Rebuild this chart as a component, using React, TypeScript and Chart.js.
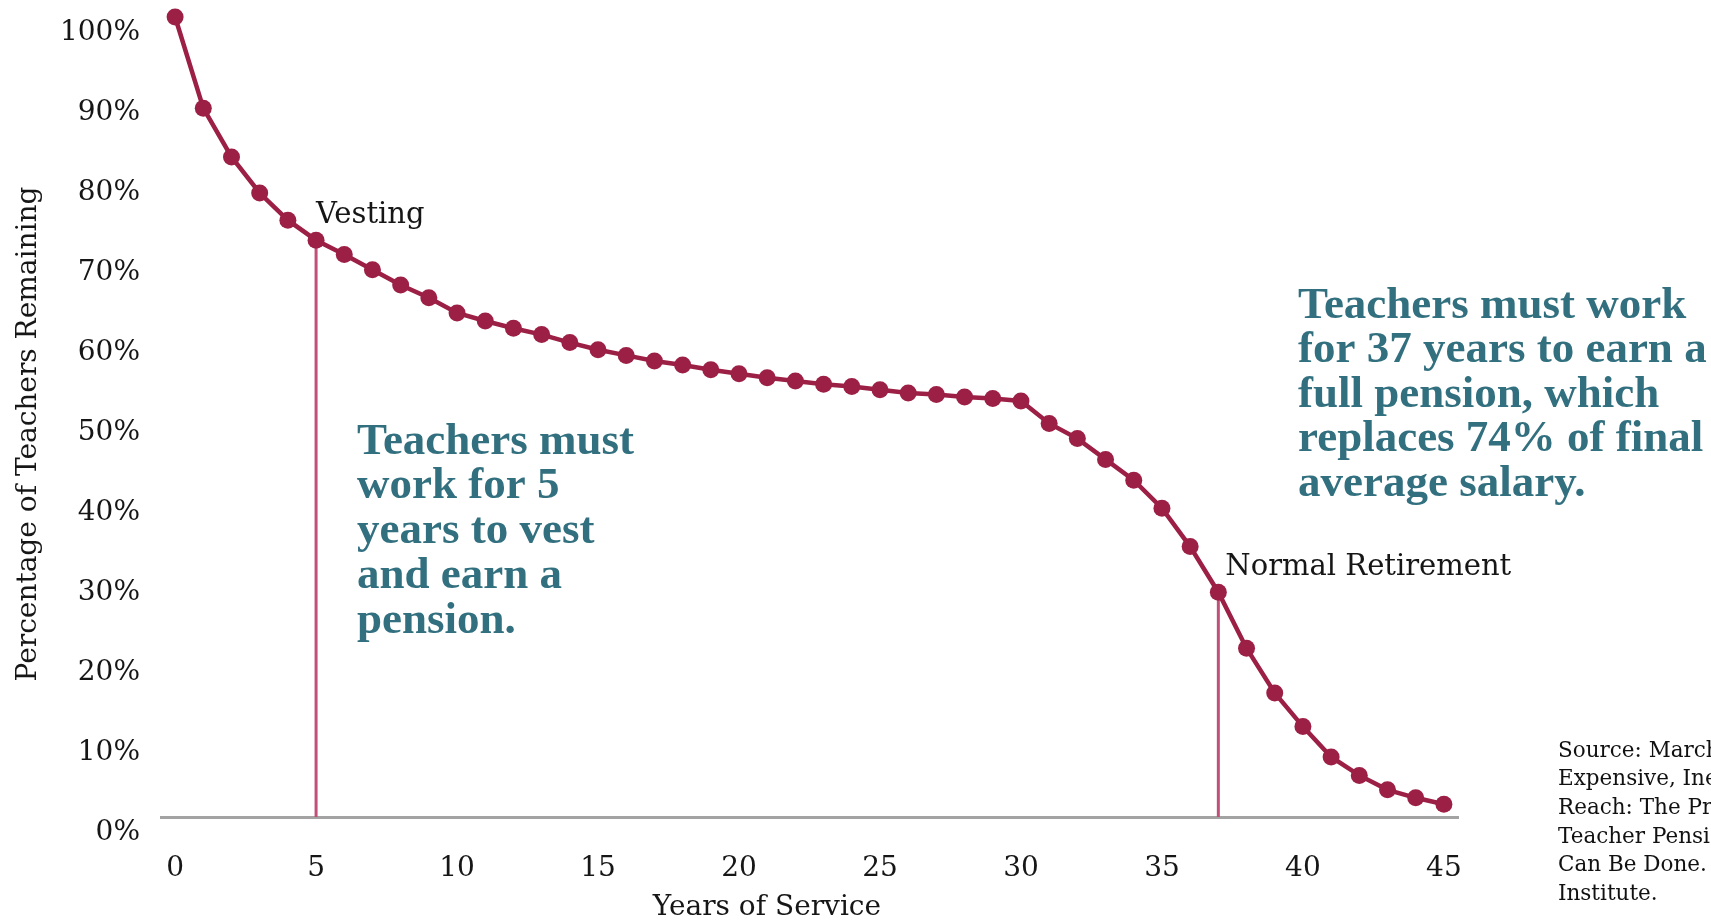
import React, { useEffect, useRef } from "react";
import { Chart, registerables } from "chart.js";

Chart.register(...registerables);

const years = [0, 1, 2, 3, 4, 5, 6, 7, 8, 9, 10, 11, 12, 13, 14, 15, 16, 17, 18, 19, 20, 21, 22, 23, 24, 25, 26, 27, 28, 29, 30, 31, 32, 33, 34, 35, 36, 37, 38, 39, 40, 41, 42, 43, 44, 45];
const remaining = [100, 88.6, 82.5, 78, 74.6, 72.1, 70.3, 68.4, 66.5, 64.9, 63.0, 62.0, 61.1, 60.3, 59.3, 58.4, 57.7, 57.0, 56.5, 55.9, 55.4, 54.9, 54.5, 54.1, 53.8, 53.4, 53.0, 52.8, 52.5, 52.3, 52.0, 49.2, 47.3, 44.7, 42.1, 38.6, 33.8, 28.1, 21.1, 15.5, 11.3, 7.5, 5.2, 3.4, 2.4, 1.6];
const xTickValues = [0, 5, 10, 15, 20, 25, 30, 35, 40, 45];
const vestingYear = 5;
const retirementYear = 37;
const xTitle = "Years of Service";
const yTitle = "Percentage of Teachers Remaining";
const vestingLabel = "Vesting";
const retirementLabel = "Normal Retirement";
const noteVesting = ["Teachers must", "work for 5", "years to vest", "and earn a", "pension."];
const noteRetirement = ["Teachers must work", "for 37 years to earn a", "full pension, which", "replaces 74% of final", "average salary."];
const sourceLines = ["Source: Marchitello", "Expensive, Inefficient", "Reach: The Problem", "Teacher Pensions", "Can Be Done. The", "Institute."];

const RED = "#9c1f45";
const PINK = "#c0507a";
const TEAL = "#32707f";
const INK = "#161616";
const SERIF = "'DejaVu Serif', serif";
const BOLD = "bold 45px 'Liberation Serif', serif";

const textPlugin = {
  id: "texts",
  afterDraw(chart: any) {
    const { ctx } = chart;
    const xs = chart.scales.x;
    const ys = chart.scales.y;
    ctx.save();
    ctx.textBaseline = "middle";
    // axis titles
    ctx.fillStyle = INK;
    ctx.font = `28px ${SERIF}`;
    ctx.textAlign = "center";
    ctx.fillText(xTitle, 767, 908);
    ctx.save();
    ctx.translate(29, 434);
    ctx.rotate(-Math.PI / 2);
    ctx.fillText(yTitle, 0, 0);
    ctx.restore();
    // point labels
    ctx.font = `29px ${SERIF}`;
    ctx.textAlign = "left";
    ctx.fillText(vestingLabel, xs.getPixelForValue(vestingYear), ys.getPixelForValue(remaining[vestingYear]) - 25);
    ctx.fillText(retirementLabel, xs.getPixelForValue(retirementYear) + 7, ys.getPixelForValue(remaining[retirementYear]) - 25);
    // notes
    ctx.fillStyle = TEAL;
    ctx.font = BOLD;
    noteVesting.forEach((t, i) => ctx.fillText(t, 357, 442 + i * 44.8));
    noteRetirement.forEach((t, i) => ctx.fillText(t, 1298, 306 + i * 44.6));
    // source
    ctx.fillStyle = "#111";
    ctx.font = `21.5px ${SERIF}`;
    sourceLines.forEach((t, i) => ctx.fillText(t, 1558, 751 + i * 28.7));
    ctx.restore();
  },
};

export default function App() {
  const ref = useRef<HTMLCanvasElement>(null);
  useEffect(() => {
    document.body.style.margin = "0";
    const canvas = ref.current!;
    const chart = new Chart(canvas, {
      type: "line",
      data: {
        datasets: [
          {
            data: years.map((x, i) => ({ x, y: remaining[i] })),
            borderColor: RED,
            backgroundColor: RED,
            borderWidth: 4.5,
            pointRadius: 8.5,
            pointBackgroundColor: RED,
            pointBorderWidth: 0,
            tension: 0,
            clip: false as any,
          },
          {
            data: [
              { x: vestingYear, y: 0 },
              { x: vestingYear, y: remaining[vestingYear] },
            ],
            borderColor: PINK,
            borderWidth: 3,
            pointRadius: 0,
          },
          {
            data: [
              { x: retirementYear, y: 0 },
              { x: retirementYear, y: remaining[retirementYear] },
            ],
            borderColor: PINK,
            borderWidth: 3,
            pointRadius: 0,
          },
        ],
      },
      options: {
        responsive: false,
        animation: false,
        devicePixelRatio: 1,
        layout: { padding: { left: 0, right: 253, top: 17, bottom: 0 } },
        plugins: { legend: { display: false }, tooltip: { enabled: false } },
        scales: {
          x: {
            type: "linear",
            min: -0.5,
            max: 45.5,
            grid: { display: false, drawTicks: false },
            border: { display: true, color: "#a3a3a3", width: 3 },
            afterBuildTicks: (s: any) => {
              s.ticks = xTickValues.map((v) => ({ value: v }));
            },
            afterFit: (s: any) => {
              s.height = 103;
              s.paddingLeft = 0;
              s.paddingRight = 0;
            },
            ticks: {
              padding: 35,
              color: INK,
              font: { family: SERIF, size: 28 },
              maxRotation: 0,
              autoSkip: false,
            },
          },
          y: {
            min: 0,
            max: 100,
            grid: { display: false, drawTicks: false },
            border: { display: false },
            afterFit: (s: any) => {
              s.width = 161;
              s.paddingTop = 0;
              s.paddingBottom = 0;
            },
            ticks: {
              stepSize: 10,
              padding: 21,
              labelOffset: 16,
              color: INK,
              font: { family: SERIF, size: 28 },
              callback: (v: any) => `${v}%`,
            },
          },
        },
      },
      plugins: [textPlugin],
    });
    return () => chart.destroy();
  }, []);
  return <canvas ref={ref} width={1711} height={920} style={{ display: "block" }} />;
}
